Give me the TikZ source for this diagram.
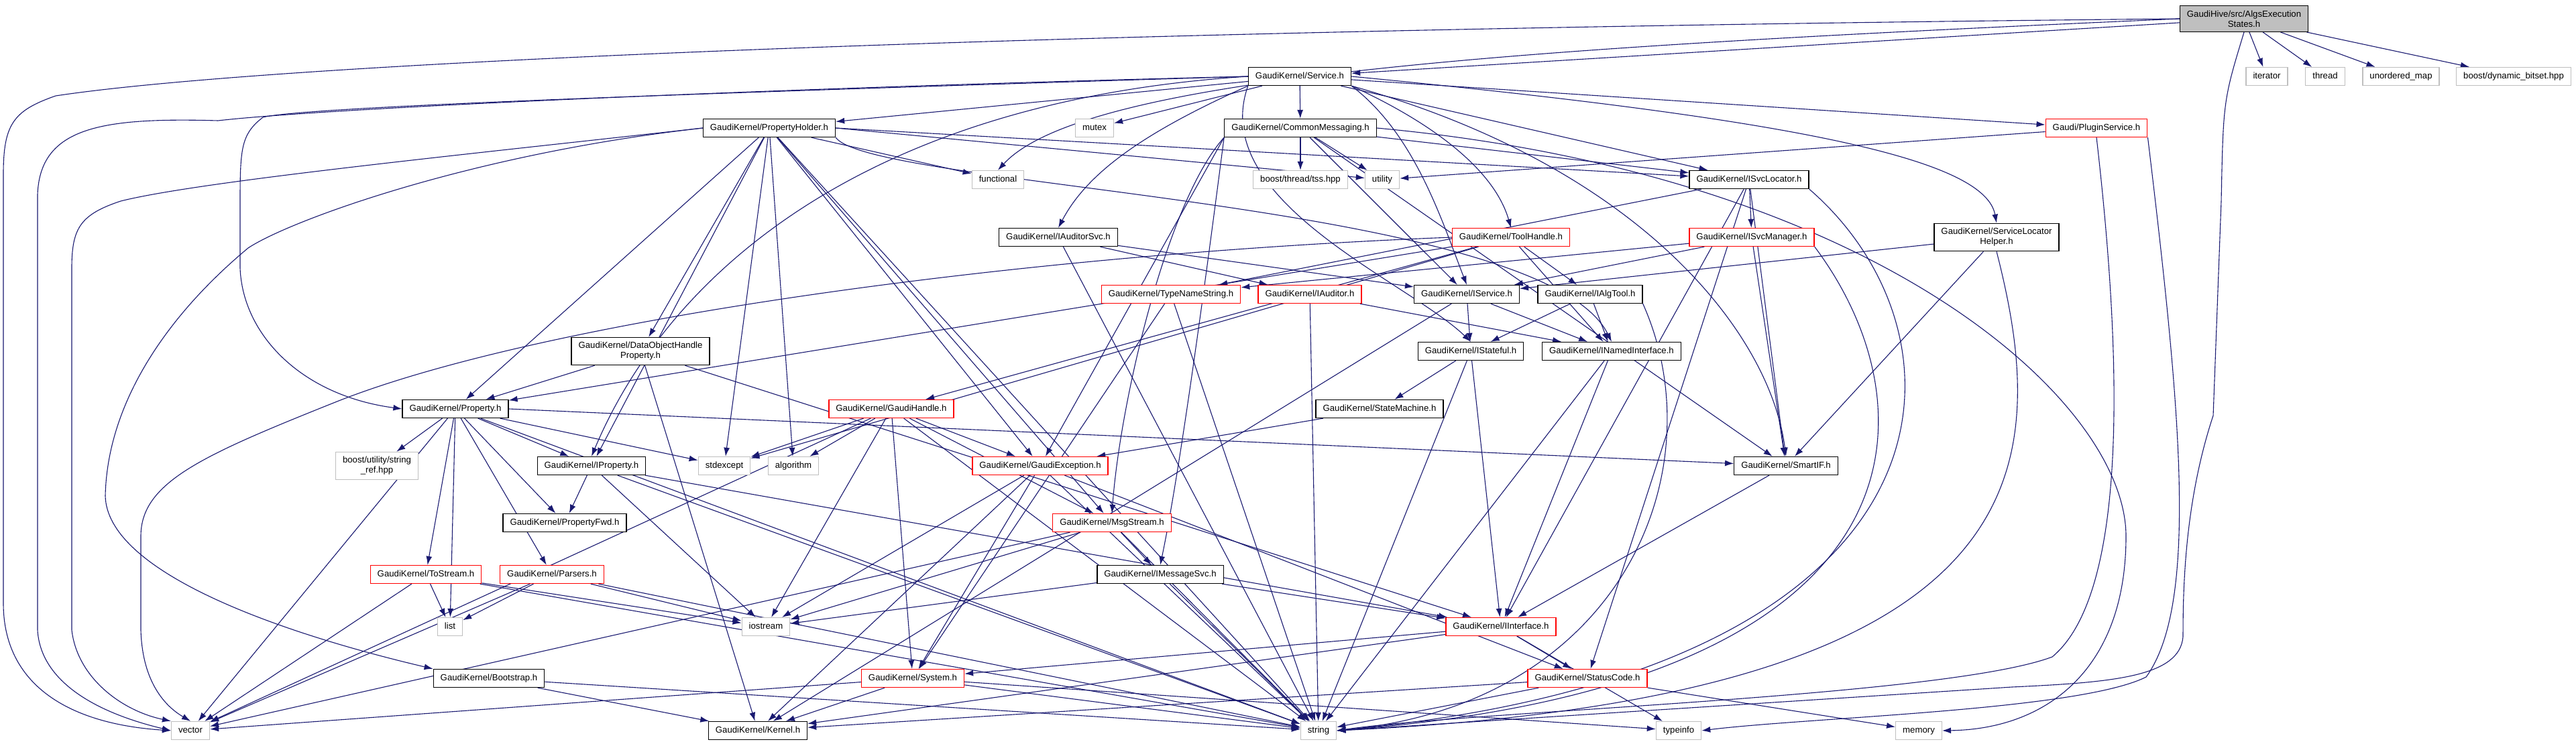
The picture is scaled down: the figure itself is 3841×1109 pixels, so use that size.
\documentclass[tikz,border=0pt]{standalone}
\usepackage{fontspec}
\setmainfont{Liberation Sans}
\usetikzlibrary{arrows.meta,backgrounds}
\definecolor{edgeblue}{HTML}{191970}
\definecolor{boxgray}{HTML}{BFBFBF}

\begin{document}
\begin{tikzpicture}[x=1pt,y=1pt,
  hdr/.style={rectangle,draw=black,fill=white,line width=1.3pt,inner xsep=10.5pt,inner ysep=6pt,
    text height=9.6pt,text depth=3pt,minimum height=27pt,align=center,font=\fontsize{13.2}{15}\selectfont},
  redhdr/.style={hdr,draw=red},
  stdhdr/.style={hdr,draw=boxgray},
  tall/.style={text height={},text depth={},inner ysep=7pt},
  roothdr/.style={hdr,tall,fill=boxgray},
  dep/.style={draw=edgeblue,line width=1.1pt,-{Latex[length=13pt,width=9pt]}}]
\useasboundingbox (0,0) rectangle (3841,-1109);

%headers
\node[roothdr] (root) at (3346,-28) {GaudiHive/src/AlgsExecution\\States.h};
\node[hdr] (svc) at (1938,-114) {GaudiKernel/Service.h};
\node[stdhdr] (iter) at (3380,-114) {iterator};
\node[stdhdr] (thread) at (3467,-114) {thread};
\node[stdhdr] (umap) at (3580,-114) {unordered\_map};
\node[stdhdr] (dynbit) at (3748,-114) {boost/dynamic\_bitset.hpp};

\node[hdr] (propholder) at (1147,-191) {GaudiKernel/PropertyHolder.h};
\node[stdhdr] (mutex) at (1632,-191) {mutex};
\node[hdr] (commsg) at (1939,-191) {GaudiKernel/CommonMessaging.h};
\node[redhdr] (plugin) at (3126,-191) {Gaudi/PluginService.h};

\node[stdhdr] (functional) at (1488,-268) {functional};
\node[stdhdr] (tss) at (1939,-268) {boost/thread/tss.hpp};
\node[stdhdr] (utility) at (2061,-268) {utility};
\node[hdr] (isvcloc) at (2608,-268) {GaudiKernel/ISvcLocator.h};

\node[hdr] (iauditorsvc) at (1578,-354) {GaudiKernel/IAuditorSvc.h};
\node[redhdr] (toolhandle) at (2253,-354) {GaudiKernel/ToolHandle.h};
\node[redhdr] (isvcmgr) at (2612,-354) {GaudiKernel/ISvcManager.h};
\node[hdr,tall] (slh) at (2977,-354) {GaudiKernel/ServiceLocator\\Helper.h};

\node[redhdr] (typename) at (1746,-439) {GaudiKernel/TypeNameString.h};
\node[redhdr] (iauditor) at (1953,-439) {GaudiKernel/IAuditor.h};
\node[hdr] (iservice) at (2187,-439) {GaudiKernel/IService.h};
\node[hdr] (ialgtool) at (2371,-439) {GaudiKernel/IAlgTool.h};

\node[hdr,tall] (dohp) at (955,-524) {GaudiKernel/DataObjectHandle\\Property.h};
\node[hdr] (istateful) at (2193,-524) {GaudiKernel/IStateful.h};
\node[hdr] (inamed) at (2403,-524) {GaudiKernel/INamedInterface.h};

\node[hdr] (property) at (679,-610) {GaudiKernel/Property.h};
\node[redhdr] (gaudihandle) at (1329,-610) {GaudiKernel/GaudiHandle.h};
\node[hdr] (statemachine) at (2057,-610) {GaudiKernel/StateMachine.h};

\node[stdhdr,tall] (stringref) at (562,-695) {boost/utility/string\\\_ref.hpp};
\node[hdr] (iproperty) at (882,-695) {GaudiKernel/IProperty.h};
\node[stdhdr] (stdexcept) at (1080,-695) {stdexcept};
\node[stdhdr] (algorithm) at (1183,-695) {algorithm};
\node[redhdr] (gexcept) at (1551,-695) {GaudiKernel/GaudiException.h};
\node[hdr] (smartif) at (2663,-695) {GaudiKernel/SmartIF.h};

\node[hdr] (propfwd) at (842,-780) {GaudiKernel/PropertyFwd.h};
\node[redhdr] (msgstream) at (1658,-780) {GaudiKernel/MsgStream.h};

\node[redhdr] (tostream) at (635,-857) {GaudiKernel/ToStream.h};
\node[redhdr] (parsers) at (823,-857) {GaudiKernel/Parsers.h};
\node[hdr] (imsgsvc) at (1730,-857) {GaudiKernel/IMessageSvc.h};

\node[stdhdr] (list) at (671,-935) {list};
\node[stdhdr] (iostream) at (1142,-935) {iostream};
\node[redhdr] (iinterface) at (2238,-935) {GaudiKernel/IInterface.h};

\node[hdr] (bootstrap) at (729,-1012) {GaudiKernel/Bootstrap.h};
\node[redhdr] (system) at (1361,-1012) {GaudiKernel/System.h};
\node[redhdr] (statuscode) at (2367,-1012) {GaudiKernel/StatusCode.h};

\node[stdhdr] (vector) at (284,-1090) {vector};
\node[hdr] (kernel) at (1130,-1090) {GaudiKernel/Kernel.h};
\node[stdhdr] (string) at (1966,-1090) {string};
\node[stdhdr] (typeinfo) at (2503,-1090) {typeinfo};
\node[stdhdr] (memory) at (2861,-1090) {memory};

\begin{pgfonlayer}{background}
%root
\draw[dep] (root) -- (svc);
\draw[dep] (root) -- (iter);
\draw[dep] (root) -- (thread);
\draw[dep] (root) -- (umap);
\draw[dep] (root) -- (dynbit);
\draw[dep] (root.west) .. controls (2300,-70) and (1620,-110) .. (functional.north);
\draw[dep] (root.west) .. controls (1500,-45) and (400,-95) .. (83,-143) .. controls (20,-165) and (5,-185) .. (5,-260) -- (5,-900) .. controls (5,-1020) and (100,-1080) .. (vector.west);
\draw[dep] (root.south) .. controls (3315,-150) .. (3312,-300) -- (3300,-620) .. controls (3257,-750) and (3255,-880) .. (3255,-950) .. controls (3250,-1010) and (3150,-1018) .. (3000,-1025) -- (string.east);

%service
\draw[dep] (svc) -- (propholder);
\draw[dep] (svc) -- (mutex);
\draw[dep] (svc) -- (commsg);
\draw[dep] (svc) -- (isvcloc);
\draw[dep] (svc.south east) .. controls (2150,-190) and (2230,-260) .. (toolhandle.north);
\draw[dep] (svc) -- (plugin);
\draw[dep] (svc.east) .. controls (2700,-180) and (2960,-240) .. (slh.north);
\draw[dep] (svc.south west) .. controls (1700,-200) and (1620,-260) .. (iauditorsvc.north);
\draw[dep] (svc.south east) .. controls (2110,-200) and (2150,-330) .. (iservice.north);
\draw[dep] (svc.south west) .. controls (1800,-300) and (2100,-420) .. (istateful.north);
\draw[dep] (svc.south east) .. controls (2450,-250) and (2640,-500) .. (smartif.north);
\draw[dep] (svc.west) .. controls (1000,-140) and (450,-160) .. (392,-175) .. controls (360,-200) and (358,-220) .. (358,-300) -- (358,-400) .. controls (362,-500) and (450,-590) .. (property.west);
\draw[dep] (svc.west) .. controls (1300,-150) and (1000,-400) .. (iproperty.north);
\draw[dep] (svc.west) .. controls (1200,-130) and (500,-160) .. (325,-180) .. controls (150,-175) and (60,-190) .. (56,-290) -- (56,-940) .. controls (60,-1010) and (130,-1060) .. (vector.west);

%property holder
\draw[dep] (propholder) -- (functional);
\draw[dep] (propholder.east) -- (utility);
\draw[dep] (propholder.east) -- (isvcloc);
\draw[dep] (propholder) -- (dohp);
\draw[dep] (propholder) -- (property);
\draw[dep] (propholder) -- (iproperty);
\draw[dep] (propholder) -- (stdexcept);
\draw[dep] (propholder) -- (algorithm);
\draw[dep] (propholder) -- (gexcept);
\draw[dep] (propholder) -- (msgstream);
\draw[dep] (propholder) -- (string);
\draw[dep] (propholder.south east) .. controls (1300,-280) and (2300,-300) .. (inamed.north);
\draw[dep] (propholder.west) .. controls (700,-230) and (300,-270) .. (180,-300) .. controls (120,-320) and (107,-340) .. (107,-400) -- (107,-940) .. controls (115,-1010) and (180,-1060) .. (vector.north west);
\draw[dep] (propholder.west) .. controls (700,-230) and (430,-330) .. (370,-370) .. controls (250,-470) and (160,-600) .. (157,-740) .. controls (160,-850) and (400,-940) .. (bootstrap.north west);

%common messaging
\draw[dep] (commsg) -- (tss);
\draw[dep] (commsg) -- (utility);
\draw[dep] (commsg) -- (isvcloc);
\draw[dep] (commsg) -- (iservice);
\draw[dep] (commsg.south west) .. controls (1800,-400) and (1760,-700) .. (imsgsvc.north);
\draw[dep] (commsg.south west) .. controls (1740,-300) and (1670,-600) .. (msgstream.north);
\draw[dep] (commsg) -- (smartif);
\draw[dep] (commsg.south west) -- (gexcept);
\draw[dep] (commsg.east) .. controls (2800,-260) and (3170,-600) .. (3170,-800) .. controls (3170,-1000) and (3050,-1088) .. (memory.east);

%plugin service
\draw[dep] (plugin) -- (utility);
\draw[dep] (plugin.south) .. controls (3160,-500) and (3180,-880) .. (3060,-980) .. controls (2900,-1040) and (2200,-1060) .. (string.east);
\draw[dep] (plugin.south east) .. controls (3250,-600) and (3280,-900) .. (3200,-1010) .. controls (3100,-1060) and (2700,-1070) .. (typeinfo.east);

%service locator and friends
\draw[dep] (isvcloc) -- (typename);
\draw[dep] (isvcloc) -- (isvcmgr);
\draw[dep] (isvcloc) -- (iinterface);
\draw[dep] (isvcloc) -- (smartif);
\draw[dep] (isvcloc) -- (statuscode);
\draw[dep] (isvcloc.south east) .. controls (2950,-500) and (2950,-1000) .. (string.east);
\draw[dep] (isvcmgr) -- (typename);
\draw[dep] (isvcmgr) -- (iservice);
\draw[dep] (isvcmgr) -- (smartif);
\draw[dep] (isvcmgr.south east) .. controls (2880,-600) and (2900,-1020) .. (string.east);
\draw[dep] (slh) -- (iservice);
\draw[dep] (slh) -- (smartif);
\draw[dep] (slh.south) .. controls (3060,-700) and (3050,-1040) .. (string.east);
\draw[dep] (iauditorsvc) -- (iauditor);
\draw[dep] (iauditorsvc) -- (iservice);
\draw[dep] (iauditorsvc) -- (string);

%tool handle
\draw[dep] (toolhandle) -- (gaudihandle);
\draw[dep] (toolhandle) -- (ialgtool);
\draw[dep] (toolhandle) -- (inamed);
\draw[dep] (toolhandle) -- (stdexcept);
\draw[dep] (toolhandle) -- (property);
\draw[dep] (toolhandle.west) .. controls (1500,-380) and (800,-480) .. (500,-600) .. controls (300,-680) and (210,-720) .. (210,-800) -- (210,-940) .. controls (212,-1010) and (240,-1050) .. (vector.north);

%interfaces
\draw[dep] (iauditor) -- (inamed);
\draw[dep] (iauditor) -- (string);
\draw[dep] (iservice) -- (istateful);
\draw[dep] (iservice) -- (inamed);
\draw[dep] (iservice) -- (kernel);
\draw[dep] (ialgtool) -- (istateful);
\draw[dep] (ialgtool) -- (inamed);
\draw[dep] (ialgtool.south east) .. controls (2560,-700) and (2420,-1050) .. (string.east);
\draw[dep] (istateful) -- (statemachine);
\draw[dep] (istateful) -- (iinterface);
\draw[dep] (istateful) -- (string);
\draw[dep] (inamed) -- (iinterface);
\draw[dep] (inamed) -- (string);
\draw[dep] (statemachine) -- (gexcept);
\draw[dep] (typename) -- (string);
\draw[dep] (typename) -- (system);
\draw[dep] (dohp) -- (property);
\draw[dep] (dohp) -- (iinterface);
\draw[dep] (dohp) -- (kernel);

%property
\draw[dep] (property) -- (stringref);
\draw[dep] (property) -- (iproperty);
\draw[dep] (property) -- (propfwd);
\draw[dep] (property) -- (tostream);
\draw[dep] (property) -- (parsers);
\draw[dep] (property.east) -- (smartif);
\draw[dep] (property) -- (stdexcept);
\draw[dep] (property) -- (string);
\draw[dep] (property) -- (list);
\draw[dep] (property) -- (vector);
\draw[dep] (iproperty) -- (propfwd);
\draw[dep] (iproperty) -- (iinterface);
\draw[dep] (iproperty) -- (string);
\draw[dep] (iproperty) -- (iostream);

%handles and exceptions
\draw[dep] (gaudihandle) -- (stdexcept);
\draw[dep] (gaudihandle) -- (algorithm);
\draw[dep] (gaudihandle) -- (gexcept);
\draw[dep] (gaudihandle) -- (iostream);
\draw[dep] (gaudihandle) -- (system);
\draw[dep] (gaudihandle) -- (string);
\draw[dep] (gaudihandle) -- (vector);
\draw[dep] (gaudihandle) -- (msgstream);
\draw[dep] (gexcept) -- (string);
\draw[dep] (gexcept) -- (iostream);
\draw[dep] (gexcept) -- (system);
\draw[dep] (gexcept) -- (kernel);
\draw[dep] (gexcept) -- (statuscode);
\draw[dep] (smartif) -- (iinterface);

%messaging
\draw[dep] (msgstream) -- (imsgsvc);
\draw[dep] (msgstream) -- (vector);
\draw[dep] (msgstream) -- (string);
\draw[dep] (msgstream) -- (iostream);
\draw[dep] (imsgsvc) -- (iinterface);
\draw[dep] (imsgsvc) -- (iostream);
\draw[dep] (imsgsvc) -- (string);

%streams and parsers
\draw[dep] (tostream) -- (vector);
\draw[dep] (tostream) -- (list);
\draw[dep] (tostream) -- (iostream);
\draw[dep] (tostream) -- (string);
\draw[dep] (parsers) -- (list);
\draw[dep] (parsers) -- (vector);
\draw[dep] (parsers) -- (string);
\draw[dep] (parsers) -- (iostream);

%bottom rows
\draw[dep] (bootstrap) -- (kernel);
\draw[dep] (bootstrap) -- (string);
\draw[dep] (system) -- (kernel);
\draw[dep] (system) -- (vector);
\draw[dep] (system) -- (string);
\draw[dep] (system) -- (typeinfo);
\draw[dep] (iinterface) -- (system);
\draw[dep] (iinterface) -- (kernel);
\draw[dep] (iinterface) -- (typeinfo);
\draw[dep] (iinterface) -- (statuscode);
\draw[dep] (statuscode) -- (kernel);
\draw[dep] (statuscode) -- (string);
\draw[dep] (statuscode) -- (memory);
\end{pgfonlayer}
\end{tikzpicture}
\end{document}
